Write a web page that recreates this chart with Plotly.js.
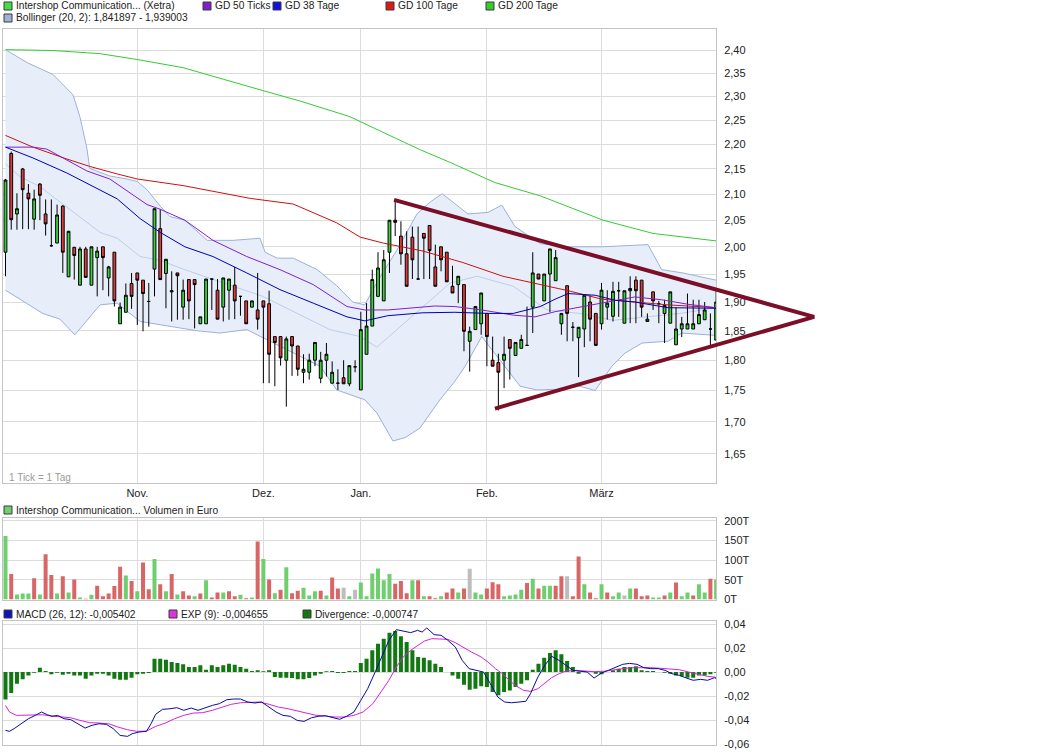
<!DOCTYPE html>
<html><head><meta charset="utf-8">
<script src="https://cdn.plot.ly/plotly-3.0.1.min.js"></script>
<style>html,body{margin:0;padding:0;background:#fff;}#chart{width:1041px;height:752px;}</style>
</head><body><div id="chart"></div>
<script>
// ---------- DATA (trading-day index 0..124, Oct 2012 - Mar 2013) ----------
const days = Array.from({length: 125}, (_, i) => i);
const monthTickIdx = [23, 45, 62, 84, 104];
const monthLabels = ['Nov.', 'Dez.', 'Jan.', 'Feb.', 'März'];
const priceTicks = [1.65,1.70,1.75,1.80,1.85,1.90,1.95,2.00,2.05,2.10,2.15,2.20,2.25,2.30,2.35,2.40];
const priceTickText = ['1,65','1,70','1,75','1,80','1,85','1,90','1,95','2,00','2,05','2,10','2,15','2,20','2,25','2,30','2,35','2,40'];
const volTicks = [0, 50, 100, 150, 200];
const volTickText = ['0T', '50T', '100T', '150T', '200T'];
const macdTicks = [0.04, 0.02, 0, -0.02, -0.04, -0.06];
const macdTickText = ['0,04', '0,02', '0,00', '-0,02', '-0,04', '-0,06'];

const open = [1.99,2.181,2.062,2.15,2.102,2.052,2.12,2.062,2.002,2.007,
2.077,1.945,1.999,1.93,1.996,1.93,1.98,2.0,1.943,1.99,
1.862,1.882,1.933,1.952,1.939,1.901,1.959,2.034,1.951,1.918,
1.952,1.891,1.94,1.94,1.862,1.862,1.941,1.921,1.891,1.921,
1.93,1.91,1.902,1.891,1.886,1.902,1.897,1.84,1.84,1.80,
1.84,1.824,1.78,1.78,1.80,1.77,1.80,1.762,1.762,1.771,
1.761,1.789,1.751,1.81,1.858,1.91,1.902,1.99,2.05,2.02,
1.987,2.018,1.941,2.025,2.04,1.963,2.0,1.99,1.928,1.931,
1.931,1.832,1.852,1.862,1.88,1.80,1.796,1.80,1.835,1.808,
1.82,1.825,1.891,1.95,1.902,1.95,1.938,1.862,1.929,1.856,
1.838,1.853,1.90,1.88,1.862,1.891,1.875,1.92,1.863,1.92,
1.939,1.939,1.866,1.918,1.897,1.88,1.863,1.826,1.853,1.853,
1.853,1.862,1.869,1.853,1.834];
const high = [2.13,2.185,2.102,2.152,2.12,2.109,2.122,2.09,2.09,2.08,
2.079,2.03,2.0,2.0,2.0,2.0,2.0,2.0,1.965,1.99,
1.899,1.933,1.952,1.952,1.939,1.934,2.072,2.071,1.977,1.955,
1.952,1.94,1.94,1.94,1.874,1.941,1.941,1.941,1.943,1.941,
1.963,1.91,1.902,1.902,1.952,1.902,1.92,1.84,1.84,1.84,
1.84,1.824,1.81,1.811,1.83,1.814,1.829,1.798,1.785,1.80,
1.791,1.80,1.883,1.898,1.958,1.99,1.994,2.05,2.086,2.048,
2.029,2.038,2.038,2.025,2.04,2.004,2.0,1.99,1.965,1.946,
1.931,1.857,1.892,1.916,1.88,1.84,1.811,1.84,1.835,1.83,
1.843,1.892,1.99,1.95,1.95,1.996,1.994,1.88,1.929,1.865,
1.856,1.912,1.912,1.88,1.934,1.921,1.936,1.936,1.92,1.946,
1.946,1.939,1.88,1.918,1.902,1.904,1.918,1.891,1.874,1.915,
1.904,1.904,1.90,1.88,1.92];
const low = [1.946,2.032,2.032,2.033,2.033,2.032,2.05,2.021,2.0,2.007,
1.952,1.945,1.94,1.93,1.944,1.93,1.91,1.921,1.91,1.892,
1.862,1.882,1.888,1.86,1.849,1.857,1.91,1.94,1.889,1.866,
1.869,1.869,1.87,1.854,1.862,1.862,1.886,1.87,1.866,1.869,
1.87,1.876,1.862,1.891,1.852,1.762,1.762,1.757,1.791,1.724,
1.774,1.774,1.762,1.768,1.79,1.762,1.773,1.762,1.751,1.761,
1.757,1.78,1.751,1.81,1.858,1.91,1.902,1.952,2.02,1.967,
1.928,1.941,1.941,1.941,1.941,1.928,1.955,1.936,1.916,1.898,
1.815,1.781,1.852,1.843,1.79,1.79,1.718,1.754,1.768,1.808,
1.82,1.825,1.846,1.941,1.902,1.882,1.938,1.843,1.832,1.832,
1.772,1.822,1.832,1.825,1.852,1.869,1.866,1.874,1.863,1.863,
1.863,1.874,1.866,1.886,1.863,1.829,1.863,1.826,1.839,1.853,
1.853,1.862,1.869,1.823,1.834];
const close = [2.128,2.051,2.072,2.109,2.091,2.091,2.098,2.043,2.002,2.06,
1.99,2.029,1.984,1.996,1.944,2.0,1.992,1.98,1.963,1.902,
1.891,1.912,1.91,1.939,1.915,1.901,2.072,1.94,1.977,1.92,
1.947,1.921,1.902,1.931,1.874,1.941,1.941,1.87,1.943,1.941,
1.902,1.91,1.862,1.902,1.87,1.891,1.81,1.83,1.804,1.836,
1.824,1.785,1.785,1.80,1.83,1.80,1.81,1.78,1.762,1.761,
1.791,1.789,1.852,1.858,1.94,1.961,1.976,2.05,2.046,1.987,
1.928,1.976,1.941,2.016,1.993,1.928,1.976,1.936,1.916,1.946,
1.849,1.849,1.892,1.916,1.84,1.79,1.78,1.81,1.82,1.83,
1.835,1.825,1.952,1.941,1.95,1.996,1.98,1.88,1.88,1.856,
1.856,1.912,1.87,1.825,1.921,1.898,1.919,1.92,1.92,1.924,
1.92,1.891,1.87,1.902,1.897,1.894,1.918,1.853,1.862,1.862,
1.862,1.878,1.886,1.853,1.90];

// moving averages & Bollinger, sampled along the day axis
const gd200X = [0,8.3,16.5,23,31,39.7,45,51.4,60.1,65.4,72.3,77.6,85.4,93.3,104.3,113,124];
const gd200Y = [2.402,2.40,2.393,2.38,2.362,2.33,2.312,2.29,2.257,2.227,2.189,2.163,2.123,2.097,2.05,2.025,2.011];
const gd100X = [0,4.8,10.7,14.7,19.5,23,31,35.2,42.7,50.2,57.8,61.9,65.9,72.9,79.8,86.8,92.4,98.2,104.1,109.8,115.6,124];
const gd100Y = [2.218,2.194,2.17,2.155,2.14,2.13,2.117,2.108,2.092,2.081,2.045,2.018,2.007,1.992,1.971,1.946,1.933,1.92,1.905,1.90,1.895,1.89];
const gd38X = [0,4.8,10.7,16.5,19.5,23.5,27,31.3,36.2,42.1,47.9,53.7,59.6,62.7,66.7,72.7,78.4,84.2,88.6,93.3,95.9,98.2,102.9,106.4,109.8,115.6,124];
const gd38Y = [2.194,2.172,2.142,2.109,2.091,2.053,2.027,2.0,1.982,1.952,1.922,1.898,1.874,1.867,1.876,1.881,1.882,1.88,1.88,1.892,1.905,1.915,1.912,1.903,1.90,1.89,1.889];
const gd50X = [0,4.8,7.2,10.7,14.2,18.2,20.5,24.7,27,31.3,36.2,42.1,47.9,53.7,59.6,62.7,66.7,74.9,78.4,83.1,88.6,92.4,95.9,100.6,106.4,109.8,114.5,119.1,124];
const gd50Y = [2.194,2.194,2.19,2.168,2.146,2.13,2.112,2.08,2.071,2.05,2.012,1.982,1.958,1.931,1.892,1.886,1.886,1.893,1.892,1.886,1.877,1.874,1.883,1.892,1.902,1.909,1.904,1.896,1.89];
const bollUpX = [0,3.8,8.3,11.8,13.0,14.2,14.7,16.5,18.2,21.2,23.0,24.7,27.0,28.7,31.3,35.2,39.7,44.4,45.3,47.4,50.2,54.4,57.8,60.6,62.7,64.8,68.3,71.8,74.1,76.2,78.4,80.7,84.2,86.6,88.9,93.3,98.0,104.1,112.1,114.5,118.2,124];
const bollUpY = [2.402,2.373,2.347,2.303,2.256,2.192,2.151,2.144,2.136,2.13,2.125,2.109,2.077,2.057,2.05,2.012,2.012,2.016,1.99,1.979,1.979,1.958,1.929,1.90,1.895,1.935,1.994,2.062,2.085,2.101,2.082,2.062,2.065,2.079,2.038,2.006,2.0,2.0,2.004,1.958,1.952,1.939];
const bollLoX = [0,2.5,6.5,9.5,12.1,16.5,19.5,21.7,23.5,33.4,37.4,42.1,45.6,50.2,54.9,57.8,62.7,64.8,67.6,69.7,72.3,75.8,78.4,80.2,81.9,83.1,86.3,89.8,92.7,96.2,100.2,102.9,105.8,108.1,111.1,115.6,118.0,124];
const bollLoY = [1.921,1.905,1.88,1.87,1.843,1.895,1.898,1.88,1.866,1.85,1.846,1.852,1.835,1.812,1.79,1.751,1.735,1.714,1.67,1.675,1.69,1.735,1.765,1.79,1.818,1.84,1.80,1.757,1.751,1.752,1.757,1.75,1.79,1.812,1.829,1.832,1.846,1.842];
const bollMidX = [0,2.5,6.0,13.0,16.5,19.5,23.5,27.0,31.3,38.0,44.9,50.9,56.6,61.9,64.8,68.3,72.9,77.6,82.3,88.6,94.5,100.2,106.0,111.9,117.7,124];
const bollMidY = [2.16,2.135,2.115,2.057,2.027,2.016,1.982,1.975,1.958,1.934,1.91,1.88,1.852,1.84,1.822,1.852,1.892,1.934,1.946,1.928,1.886,1.88,1.868,1.874,1.88,1.89];

// drawn triangle (upper start -> apex -> lower start)
const trendX = [67.8, 141.1, 85.4];
const trendY = [2.089, 1.874, 1.721];

// volume in thousand euro, direction vs previous close (G up, R down, N unchanged)
const volume = [161,65,13,15,15,54,13,115,62,15,
59,18,51,5,2,12,35,8,15,34,
83,61,47,21,94,26,103,39,21,65,
13,21,10,8,15,49,5,18,18,21,
8,12,3,5,147,103,51,16,25,82,
16,22,30,10,21,22,10,56,28,30,
8,25,43,8,66,79,49,65,40,47,
16,49,49,8,8,3,8,18,28,18,
28,78,18,13,28,44,39,8,10,13,
25,42,53,28,35,35,35,59,59,8,
109,39,18,3,39,18,8,18,10,28,
28,8,10,5,5,10,18,43,8,18,
10,39,18,53,51];
const volDir = ('GRGGGRGRRG' + 'RGRGRGRRRR' + 'RGRGRRGRGR' + 'GRRGRGRRGR' + 'RGRGRGRGRG' +
  'RRGGGRGRRN' + 'GNGGGGGGRR' + 'RGRGRRGRRG' + 'RNGGRRRGGG' + 'GRGRGGRRNR' +
  'RGRRGRGGNG' + 'RRRGGRGRGG' + 'RGGRG').split('');

// MACD
const macdX = [0,0.7,1.5,2.7,4.0,5.2,6.3,7.3,8.1,9.1,10.2,11.4,12.6,13.9,15.1,16.3,17.6,18.8,20.0,21.3,22.1,23.3,24.6,25.4,26.2,27.4,28.7,29.9,31.1,32.4,33.6,34.8,36.1,37.3,38.6,39.8,41.0,42.3,43.5,44.7,46.0,47.2,48.4,49.7,50.9,52.1,53.4,54.6,55.8,57.1,58.3,59.5,60.8,62.0,63.2,64.5,65.7,66.9,68.2,69.4,70.7,71.9,72.7,73.5,74.8,76.0,77.2,78.5,79.7,80.9,82.2,83.4,84.6,85.9,87.1,88.3,89.6,90.8,91.6,92.9,94.1,95.3,96.6,97.8,99.0,100.3,101.5,102.7,104.0,105.2,106.5,107.7,108.9,110.2,111.4,112.6,113.9,115.1,116.3,117.6,118.8,120.0,121.3,122.5,123.7,124];
const macdY = [-0.0486,-0.0494,-0.0472,-0.0431,-0.0389,-0.0361,-0.0333,-0.0356,-0.0369,-0.0361,-0.0389,-0.0397,-0.0431,-0.0467,-0.0444,-0.0431,-0.0436,-0.0472,-0.0528,-0.0536,-0.0514,-0.05,-0.0494,-0.0431,-0.0353,-0.0311,-0.0306,-0.0297,-0.0319,-0.03,-0.0319,-0.0297,-0.0278,-0.0264,-0.0231,-0.0225,-0.0225,-0.025,-0.0258,-0.025,-0.0292,-0.0333,-0.0361,-0.0369,-0.0403,-0.0411,-0.0381,-0.0369,-0.0364,-0.0381,-0.0394,-0.0369,-0.0333,-0.0236,-0.0139,0,0.0125,0.0264,0.0353,0.0342,0.0328,0.0347,0.0333,0.0367,0.0311,0.0306,0.0264,0.0208,0.0097,0.0028,0.0014,0,-0.0097,-0.0208,-0.025,-0.0256,-0.025,-0.0244,-0.0181,-0.0042,0.0056,0.0131,0.0097,0.0056,0.0014,0.0006,0,-0.005,-0.0008,0.0014,0.0042,0.0064,0.0072,0.0064,0.0036,0.0028,0.0028,0.0014,-0.0014,-0.0028,-0.005,-0.0069,-0.0061,-0.0069,-0.0047,-0.0054];
const expX = [0,0.7,1.9,3.2,4.8,6.5,8.1,9.7,11.4,13.0,14.7,16.3,18.0,19.6,21.3,22.9,24.6,26.2,27.9,29.5,31.1,32.8,34.4,36.1,37.7,39.4,41.0,42.7,44.3,46.0,47.6,49.3,50.9,52.5,54.2,55.8,57.5,59.1,60.8,62.4,64.1,65.7,66.9,68.2,69.4,70.7,71.9,73.1,74.4,76.0,77.2,78.5,79.7,81.3,83.0,84.2,85.5,86.7,87.9,89.2,90.4,91.6,92.9,94.1,95.3,96.6,97.8,99.5,101.1,102.7,104.4,106.0,107.7,109.3,111.0,112.6,114.3,115.9,117.6,119.2,120.9,122.5,123.7,124];
const expY = [-0.0278,-0.0333,-0.0361,-0.0361,-0.0361,-0.0356,-0.0367,-0.0375,-0.0381,-0.0403,-0.0422,-0.0425,-0.0431,-0.0458,-0.0481,-0.0494,-0.0492,-0.0453,-0.0425,-0.0389,-0.0361,-0.0342,-0.0339,-0.0319,-0.0292,-0.0269,-0.0256,-0.025,-0.025,-0.0269,-0.0292,-0.0306,-0.0325,-0.0347,-0.0361,-0.0367,-0.0375,-0.0375,-0.0361,-0.0333,-0.0264,-0.0153,-0.0069,0.0042,0.0125,0.0181,0.0222,0.0258,0.0278,0.0278,0.0272,0.0244,0.0208,0.0167,0.0125,0.0083,0.0028,-0.0014,-0.0069,-0.0119,-0.0153,-0.0161,-0.0139,-0.0092,-0.0047,-0.0014,0.0008,0.0014,0.0008,0.0003,0.0006,0.0019,0.0028,0.0036,0.0039,0.0036,0.0031,0.0028,0.0019,0,-0.0019,-0.0036,-0.0042,-0.0047];
const divergence = [-0.0228,-0.0175,-0.0097,-0.0061,-0.0028,-0.0006,0.0036,0.0008,-0.0019,-0.0006,
-0.0022,-0.0014,-0.0028,-0.0028,-0.0056,-0.0028,-0.0014,-0.0014,-0.0028,-0.0056,
-0.0064,-0.0064,-0.0047,-0.0019,-0.0014,-0.0008,0.0111,0.0111,0.0103,0.0083,
0.0075,0.0064,0.0042,0.0042,0.0056,0.0019,0.0056,0.0042,0.0056,0.0069,
0.0061,0.0042,0.0028,0.0008,0.0014,0.0006,0.0014,-0.0042,-0.0047,-0.0047,
-0.005,-0.0061,-0.0061,-0.005,-0.0028,-0.0014,0.0006,0.0008,-0.0008,-0.0008,
0.0008,0.0008,0.0075,0.0111,0.0181,0.0236,0.0278,0.0328,0.0342,0.0297,
0.025,0.0181,0.0125,0.0119,0.0097,0.0069,0.0042,0,-0.0028,-0.0056,
-0.0106,-0.0147,-0.0139,-0.0119,-0.0125,-0.0167,-0.0194,-0.0167,-0.0153,-0.0125,
-0.0097,-0.0069,0.0019,0.0069,0.0119,0.0158,0.0181,0.0147,0.0092,0.0042,
-0.0014,0.0006,0.0006,-0.0014,-0.0019,0,0.0014,0.0028,0.0042,0.0042,
0.0047,0.0014,0.0008,0.0008,0,-0.0006,-0.0014,-0.0028,-0.0036,-0.0047,
-0.0047,-0.0028,-0.0028,-0.0019,-0.0007];

// ---------- STYLE / LAYOUT ----------
const W = 1041, H = 752;
const fx = v => v / W, fy = v => 1 - v / H;
const FONT = 'Liberation Sans, Arial, sans-serif';
const GRID = '#dcdcdc', FRAME = '#c4c4c4', TXT = '#222';
const C = {up:'#3ad23a', down:'#de3b3b', g50:'#8020cc', g38:'#0000b0', g100:'#cc1010', g200:'#33cc33',
  bFill:'#e7eefa', bLine:'#9cb1d8', bMid:'#bccdea', trend:'#7b0f27',
  vUp:'#6fcf6f', vDown:'#d96666', vFlat:'#bdbdbd', macd:'#0a0a9c', exp:'#d424d4', div:'#127812'};

const xPix0 = 2.7, xPix1 = 716, idx0px = 5.49, pxPerDay = 5.731;
const xRange = [(xPix0 - idx0px) / pxPerDay, (xPix1 - idx0px) / pxPerDay];
const xTrendPix1 = 822;
const yRangeLog = [Math.log10(1.606), Math.log10(2.4496)];

const traces = [];
// price panel, layer 1 (xy): Bollinger band
traces.push({x: bollUpX.concat(bollLoX.slice().reverse()), y: bollUpY.concat(bollLoY.slice().reverse()),
  type:'scatter', mode:'lines', fill:'toself', fillcolor:C.bFill, line:{width:0}, hoverinfo:'skip', xaxis:'x', yaxis:'y'});
[[bollUpX,bollUpY,C.bLine],[bollLoX,bollLoY,C.bLine],[bollMidX,bollMidY,C.bMid]].forEach(([x,y,c]) =>
  traces.push({x, y, type:'scatter', mode:'lines', line:{color:c, width:1}, xaxis:'x', yaxis:'y'}));
// price panel, layer 2 (overlay x5y5): candles, then moving averages
traces.push({type:'candlestick', x: days, open, high, low, close, xaxis:'x5', yaxis:'y5',
  whiskerwidth: 0,
  increasing:{fillcolor:C.up, line:{color:'#000', width:1}},
  decreasing:{fillcolor:C.down, line:{color:'#000', width:1}}});
[[gd200X,gd200Y,C.g200],[gd100X,gd100Y,C.g100],[gd50X,gd50Y,C.g50],[gd38X,gd38Y,C.g38]].forEach(([x,y,c]) =>
  traces.push({x, y, type:'scatter', mode:'lines', line:{color:c, width:1}, xaxis:'x5', yaxis:'y5'}));
// volume
traces.push({type:'bar', x: days, y: volume, xaxis:'x2', yaxis:'y2',
  marker:{color: volDir.map(d => d === 'G' ? C.vUp : d === 'R' ? C.vDown : C.vFlat), line:{width:0}}});
// MACD
traces.push({type:'bar', x: days, y: divergence, xaxis:'x3', yaxis:'y3',
  marker:{color:C.div, line:{width:0}}});
traces.push({x: expX, y: expY, type:'scatter', mode:'lines', line:{color:C.exp, width:1}, xaxis:'x3', yaxis:'y3'});
traces.push({x: macdX, y: macdY, type:'scatter', mode:'lines', line:{color:C.macd, width:1}, xaxis:'x3', yaxis:'y3'});
// triangle (separate subplot wider than price panel, same scale)
traces.push({x: trendX, y: trendY, type:'scatter', mode:'lines', line:{color:C.trend, width:4}, xaxis:'x4', yaxis:'y4'});

const tickFont = {family: FONT, size: 11, color: TXT};
const baseX = {domain:[fx(xPix0), fx(xPix1)], range:xRange, tickvals:monthTickIdx, ticktext:monthLabels,
  showgrid:true, gridcolor:GRID, gridwidth:1, zeroline:false, showline:true, mirror:true, linecolor:FRAME,
  ticks:'', tickfont:tickFont, fixedrange:true};
const baseY = {side:'right', showgrid:true, gridcolor:GRID, zeroline:false, showline:true, mirror:true,
  linecolor:FRAME, ticks:'', tickfont:tickFont, ticklabelstandoff:5, fixedrange:true};

const layout = {
  width: W, height: H, margin:{l:0, r:0, t:0, b:0}, paper_bgcolor:'#fff', plot_bgcolor:'rgba(0,0,0,0)',
  showlegend:false, bargap:0.3, font:{family:FONT, size:11, color:TXT},
  xaxis: Object.assign({}, baseX, {anchor:'y', rangeslider:{visible:false}}),
  yaxis: Object.assign({}, baseY, {anchor:'x', domain:[fy(483), fy(28.5)], type:'log', range:yRangeLog,
    tickvals:priceTicks, ticktext:priceTickText}),
  xaxis5: {overlaying:'x', anchor:'y5', range:xRange, visible:false, fixedrange:true, rangeslider:{visible:false}},
  yaxis5: {overlaying:'y', anchor:'x5', type:'log', range:yRangeLog, visible:false, fixedrange:true},
  xaxis2: Object.assign({}, baseX, {anchor:'y2', showticklabels:false}),
  yaxis2: Object.assign({}, baseY, {anchor:'x2', domain:[fy(599.5), fy(518)], range:[0, 207],
    tickvals:volTicks, ticktext:volTickText}),
  xaxis3: Object.assign({}, baseX, {anchor:'y3', showticklabels:false}),
  yaxis3: Object.assign({}, baseY, {anchor:'x3', domain:[fy(745), fy(621)], range:[-0.0608, 0.0425],
    tickvals:macdTicks, ticktext:macdTickText}),
  xaxis4: {anchor:'y4', domain:[fx(xPix0), fx(xTrendPix1)],
    range:[xRange[0], (xTrendPix1 - idx0px) / pxPerDay], visible:false, fixedrange:true},
  yaxis4: {anchor:'x4', domain:[fy(483), fy(28.5)], type:'log', range:yRangeLog, visible:false, fixedrange:true},
  shapes: [], annotations: []
};

function legendItem(xSq, yMid, color, text) {
  layout.shapes.push({type:'rect', xref:'paper', yref:'paper', x0:fx(xSq), x1:fx(xSq + 8),
    y0:fy(yMid + 4), y1:fy(yMid - 4), fillcolor:color, line:{color:'#3a3a3a', width:1}});
  layout.annotations.push({xref:'paper', yref:'paper', x:fx(xSq + 10), y:fy(yMid), xanchor:'left', yanchor:'middle',
    text:text, showarrow:false, font:{family:FONT, size:10.2, color:TXT}});
}
legendItem(4, 6, '#44dd44', 'Intershop Communication... (Xetra)');
legendItem(203, 6, C.g50, 'GD 50 Ticks');
legendItem(273, 6, '#1010e0', 'GD 38 Tage');
legendItem(386, 6, '#dd1a1a', 'GD 100 Tage');
legendItem(486, 6, C.g200, 'GD 200 Tage');
legendItem(4, 18, '#9fb3d8', 'Bollinger (20, 2): 1,841897 - 1,939003');
legendItem(4, 510, '#70d070', 'Intershop Communication... Volumen in Euro');
legendItem(4, 614, '#1010c0', 'MACD (26, 12): -0,005402');
legendItem(169, 614, '#dd33dd', 'EXP (9): -0,004655');
legendItem(303, 614, '#127812', 'Divergence: -0,000747');
layout.annotations.push({xref:'paper', yref:'paper', x:fx(7), y:fy(477), xanchor:'left', yanchor:'middle',
  text:'1 Tick = 1 Tag', showarrow:false, font:{family:FONT, size:10, color:'#9a9a9a'}});

Plotly.newPlot('chart', traces, layout, {staticPlot:true, displayModeBar:false});
</script></body></html>
